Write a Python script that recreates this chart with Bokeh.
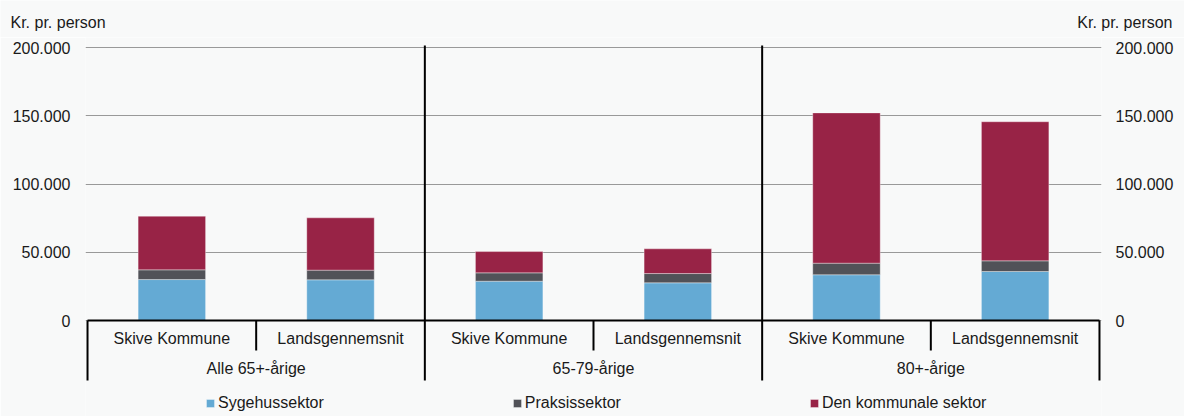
from bokeh.plotting import figure
from bokeh.layouts import column
from bokeh.models import (ColumnDataSource, FactorRange, Range1d, LinearAxis, FixedTicker,
                          CustomJSTickFormatter, Grid, Legend, LegendItem, Plot)
from bokeh.core.properties import value
from bokeh.embed import file_html
from bokeh.resources import INLINE

# ---------------- data ----------------
groups = ["Alle 65+-årige", "65-79-årige", "80+-årige"]
areas = ["Skive Kommune", "Landsgennemsnit"]
series = ["Sygehussektor", "Praksissektor", "Den kommunale sektor"]
sygehus = [30000, 29800, 28800, 27600, 33500, 35900]
praksis = [7100, 7100, 6100, 6800, 8500, 7800]
kommunal = [39300, 38300, 15600, 18100, 110100, 101900]
y_ticks = [0, 50000, 100000, 150000, 200000]
unit_label = "Kr. pr. person"
colors = ["#64aad4", "#515258", "#982346"]

# ---------------- layout / style ----------------
FONT = "Liberation Sans"
BG = "#f8f9f9"
TXT = "#1a1a1a"
W = 1184
HEAD_H = 37                       # header strip with the unit labels
H = 416 - HEAD_H                  # main chart height
LEFT, RIGHT = 85, 83
PX_PER = 273 / 200000.0           # screen px per krone
ZERO_UP = 283                     # px from zero line to frame top
SEP_TOP = 275                     # px from zero line to top of group separators
ZERO_DOWN = H - ZERO_UP           # px from zero line to frame bottom
HAS_ALIGN = "frame_align" in Plot.properties()

# ---------------- header with unit labels ----------------
head = figure(width=W, height=HEAD_H, output_backend="svg", toolbar_location=None, title=None,
              x_range=Range1d(0, W), y_range=Range1d(HEAD_H, 0),
              x_axis_location=None, y_axis_location=None,
              min_border_left=0, min_border_right=0, min_border_top=0, min_border_bottom=0)
head.background_fill_color = BG
head.border_fill_color = BG
head.outline_line_color = None
for g in head.grid:
    g.visible = False
head_src = ColumnDataSource(dict(x=[10, W - 12], y=[22, 22], t=[unit_label, unit_label],
                                 align=["left", "right"]))
head.text(x="x", y="y", text="t", text_align="align", source=head_src,
          text_font=value(FONT), text_font_size="16px", text_color=TXT,
          text_baseline="alphabetic")

# ---------------- main chart ----------------
factors = [(g, a) for g in groups for a in areas]

p = figure(width=W, height=H, output_backend="svg", toolbar_location=None, title=None,
           x_range=FactorRange(*factors, factor_padding=0, group_padding=0,
                               range_padding=0.012, range_padding_units="absolute"),
           y_range=Range1d(-ZERO_DOWN / PX_PER, ZERO_UP / PX_PER),
           x_axis_location=None, y_axis_location=None,
           min_border_left=LEFT, min_border_right=RIGHT, min_border_top=0,
           min_border_bottom=0)
if HAS_ALIGN:
    head.frame_align = False
    p.frame_align = False
p.extra_y_ranges = {"px": Range1d(-ZERO_DOWN, ZERO_UP)}
p.background_fill_color = BG
p.border_fill_color = BG
p.outline_line_color = None
for g in p.grid:
    g.visible = False

p.add_layout(Grid(dimension=1, ticker=FixedTicker(ticks=y_ticks),
                  grid_line_color="#999999", grid_line_width=1))

src = ColumnDataSource(dict(x=factors, Sygehussektor=sygehus,
                            Praksissektor=praksis, **{"Den kommunale sektor": kommunal}))
rs = p.vbar_stack(series, x="x", width=0.4, color=colors, source=src,
                  line_color="white", line_alpha=0.35, line_width=1)

fmt = CustomJSTickFormatter(code="return tick.toFixed(0).replace(/\\B(?=(\\d{3})+(?!\\d))/g, '.');")
for side, standoff in (("left", 15), ("right", 14)):
    ax = LinearAxis(ticker=FixedTicker(ticks=y_ticks), formatter=fmt,
                    major_label_standoff=standoff, axis_line_color=None,
                    major_tick_line_color=None, minor_tick_line_color=None,
                    major_tick_out=0, major_tick_in=0,
                    major_label_text_font=FONT, major_label_text_font_size="16px",
                    major_label_text_color=TXT)
    p.add_layout(ax, side)

# category axis lines and separators (y in px relative to zero line)
g0, g1, g2 = groups
s0, s1 = areas
seg = ColumnDataSource(dict(
    x0=[(g0, s0, -0.5), (g1, s0, -0.5), (g2, s0, -0.5), (g0, s0, -0.5), (g2, s1, 0.5),
        (g0, s0, 0.5), (g1, s0, 0.5), (g2, s0, 0.5)],
    x1=[(g2, s1, 0.5), (g1, s0, -0.5), (g2, s0, -0.5), (g0, s0, -0.5), (g2, s1, 0.5),
        (g0, s0, 0.5), (g1, s0, 0.5), (g2, s0, 0.5)],
    y0=[0, -60, -60, -60, -60, -30, -30, -30],
    y1=[0, SEP_TOP, SEP_TOP, 0, 0, 0, 0, 0],
))
p.segment(x0="x0", y0="y0", x1="x1", y1="y1", source=seg, y_range_name="px",
          line_color="black", line_width=2)

sub_src = ColumnDataSource(dict(x=factors, y=[-18] * len(factors), t=[a for _, a in factors]))
p.text(x="x", y="y", text="t", source=sub_src, y_range_name="px",
       text_font=value(FONT), text_font_size="16px", text_color=TXT,
       text_align="center", text_baseline="middle")
grp_src = ColumnDataSource(dict(x=groups, y=[-48] * len(groups), t=groups))
p.text(x="x", y="y", text="t", source=grp_src, y_range_name="px",
       text_font=value(FONT), text_font_size="16px", text_color=TXT,
       text_align="center", text_baseline="middle")

legend = Legend(items=[LegendItem(label=s, renderers=[r]) for s, r in zip(series, rs)],
                orientation="horizontal", location=(120, 4), spacing=188,
                padding=0, margin=0, glyph_width=10, glyph_height=10,
                label_standoff=3, label_height=16,
                label_text_font=FONT, label_text_font_size="16px", label_text_color=TXT,
                background_fill_alpha=0, border_line_alpha=0)
p.add_layout(legend)

layout = column(head, p, spacing=0)
open("out.html", "w").write(file_html(layout, INLINE))
